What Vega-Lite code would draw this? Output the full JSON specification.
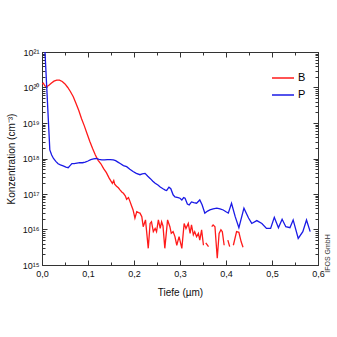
{
"$schema": "https://vega.github.io/schema/vega-lite/v6.json",
"width": 276, "height": 213,
"autosize": {"type": "none"},
"padding": {"left": 42, "top": 52, "right": 19, "bottom": 72},
"background": "white",
"config": {
 "font": "Liberation Sans",
 "view": {"stroke": "#333", "strokeWidth": 1},
 "axis": {"domainColor": "#333", "tickColor": "#333", "labelColor": "#111", "titleColor": "#111", "grid": false, "titleFontWeight": "normal", "labelFontSize": 9, "titleFontSize": 10}
},
"data": {"values": [
{"s":"B","x":0.000,"y":1.26e20},{"s":"B","x":0.003,"y":1.32e20},{"s":"B","x":0.006,"y":1.12e20},{"s":"B","x":0.010,"y":1.05e20},
{"s":"B","x":0.015,"y":1.15e20},{"s":"B","x":0.020,"y":1.32e20},{"s":"B","x":0.026,"y":1.51e20},{"s":"B","x":0.032,"y":1.62e20},
{"s":"B","x":0.038,"y":1.62e20},{"s":"B","x":0.044,"y":1.48e20},{"s":"B","x":0.050,"y":1.26e20},{"s":"B","x":0.056,"y":1.0e20},
{"s":"B","x":0.062,"y":7.6e19},{"s":"B","x":0.068,"y":5.5e19},{"s":"B","x":0.074,"y":3.55e19},{"s":"B","x":0.080,"y":2.24e19},
{"s":"B","x":0.086,"y":1.32e19},{"s":"B","x":0.092,"y":8.3e18},{"s":"B","x":0.098,"y":5.0e18},{"s":"B","x":0.104,"y":3.0e18},
{"s":"B","x":0.110,"y":1.9e18},{"s":"B","x":0.116,"y":1.26e18},{"s":"B","x":0.122,"y":8.9e17},{"s":"B","x":0.128,"y":7.1e17},
{"s":"B","x":0.134,"y":5.2e17},{"s":"B","x":0.140,"y":4.0e17},{"s":"B","x":0.146,"y":2.8e17},{"s":"B","x":0.150,"y":2.3e17},
{"s":"B","x":0.153,"y":2.0e17},{"s":"B","x":0.156,"y":2.4e17},{"s":"B","x":0.158,"y":1.9e17},{"s":"B","x":0.162,"y":1.66e17},
{"s":"B","x":0.166,"y":1.5e17},{"s":"B","x":0.170,"y":1.29e17},{"s":"B","x":0.174,"y":1.12e17},{"s":"B","x":0.177,"y":1.05e17},
{"s":"B","x":0.181,"y":8.9e16},{"s":"B","x":0.184,"y":7.1e16},{"s":"B","x":0.188,"y":7.9e16},{"s":"B","x":0.191,"y":6.3e16},
{"s":"B","x":0.195,"y":4.5e16},{"s":"B","x":0.198,"y":3.55e16},{"s":"B","x":0.202,"y":2.1e16},{"s":"B","x":0.206,"y":3.16e16},
{"s":"B","x":0.210,"y":3.0e16},{"s":"B","x":0.213,"y":2.9e16},{"s":"B","x":0.217,"y":2.3e16},{"s":"B","x":0.220,"y":1.2e16},
{"s":"B","x":0.225,"y":1.86e16},{"s":"B","x":0.231,"y":2.95e15},{"s":"B","x":0.235,"y":1.48e16},{"s":"B","x":0.238,"y":1.66e16},
{"s":"B","x":0.242,"y":8.7e15},{"s":"B","x":0.246,"y":1.07e16},{"s":"B","x":0.249,"y":8.7e15},{"s":"B","x":0.253,"y":1.86e16},
{"s":"B","x":0.257,"y":1.07e16},{"s":"B","x":0.260,"y":1.66e16},{"s":"B","x":0.263,"y":1.26e16},{"s":"B","x":0.267,"y":2.95e15},
{"s":"B","x":0.273,"y":1.86e16},{"s":"B","x":0.278,"y":1.2e16},{"s":"B","x":0.281,"y":7.8e15},{"s":"B","x":0.285,"y":8.7e15},
{"s":"B","x":0.289,"y":6.3e15},{"s":"B","x":0.293,"y":3.6e15},{"s":"B","x":0.298,"y":6.3e15},{"s":"B","x":0.304,"y":2.95e15},
{"s":"B","x":0.309,"y":1.48e16},{"s":"B","x":0.313,"y":1.07e16},{"s":"B","x":0.318,"y":1.48e16},{"s":"B","x":0.322,"y":7.8e15},
{"s":"B","x":0.325,"y":1.35e16},{"s":"B","x":0.329,"y":7.1e15},{"s":"B","x":0.332,"y":8.7e15},{"s":"B","x":0.336,"y":6.3e15},
{"s":"B","x":0.340,"y":7.8e15},{"s":"B","x":0.343,"y":5.0e15},{"s":"B","x":0.347,"y":9.8e15},{"s":"B","x":0.351,"y":3.6e15},
{"s":"B","x":0.354,"y":null},{"s":"B","x":0.356,"y":4.2e15},{"s":"B","x":0.362,"y":3.3e15},{"s":"B","x":0.365,"y":null},
{"s":"B","x":0.369,"y":1.2e16},{"s":"B","x":0.372,"y":1.35e16},{"s":"B","x":0.376,"y":1.2e16},{"s":"B","x":0.381,"y":1.55e15},
{"s":"B","x":0.385,"y":7.8e15},{"s":"B","x":0.389,"y":9.8e15},{"s":"B","x":0.392,"y":8.7e15},{"s":"B","x":0.396,"y":3.6e15},
{"s":"B","x":0.400,"y":null},{"s":"B","x":0.404,"y":5.0e15},{"s":"B","x":0.408,"y":3.3e15},{"s":"B","x":0.411,"y":null},
{"s":"B","x":0.416,"y":3.6e15},{"s":"B","x":0.423,"y":8.7e15},{"s":"B","x":0.428,"y":8.3e15},{"s":"B","x":0.433,"y":4.5e15},
{"s":"B","x":0.437,"y":3.16e15},
{"s":"P","x":0.000,"y":1e22},{"s":"P","x":0.0065,"y":1e21},{"s":"P","x":0.017,"y":1.74e18},{"s":"P","x":0.021,"y":1.26e18},
{"s":"P","x":0.025,"y":1.0e18},{"s":"P","x":0.030,"y":8.3e17},{"s":"P","x":0.035,"y":7.1e17},{"s":"P","x":0.040,"y":6.6e17},
{"s":"P","x":0.046,"y":6.2e17},{"s":"P","x":0.052,"y":5.75e17},{"s":"P","x":0.057,"y":5.5e17},{"s":"P","x":0.061,"y":6.3e17},
{"s":"P","x":0.065,"y":7.2e17},{"s":"P","x":0.070,"y":7.2e17},{"s":"P","x":0.076,"y":7.4e17},{"s":"P","x":0.082,"y":7.6e17},
{"s":"P","x":0.088,"y":7.6e17},{"s":"P","x":0.094,"y":7.9e17},{"s":"P","x":0.100,"y":8.5e17},{"s":"P","x":0.106,"y":9.3e17},
{"s":"P","x":0.112,"y":9.8e17},{"s":"P","x":0.118,"y":1.0e18},{"s":"P","x":0.124,"y":9.5e17},{"s":"P","x":0.130,"y":9.1e17},
{"s":"P","x":0.136,"y":9.1e17},{"s":"P","x":0.142,"y":9.3e17},{"s":"P","x":0.148,"y":9.3e17},{"s":"P","x":0.155,"y":9.1e17},
{"s":"P","x":0.160,"y":8.7e17},{"s":"P","x":0.165,"y":7.9e17},{"s":"P","x":0.170,"y":7.2e17},{"s":"P","x":0.177,"y":6.3e17},
{"s":"P","x":0.184,"y":5.9e17},{"s":"P","x":0.191,"y":5.0e17},{"s":"P","x":0.198,"y":4.3e17},{"s":"P","x":0.205,"y":3.8e17},
{"s":"P","x":0.213,"y":3.5e17},{"s":"P","x":0.218,"y":3.7e17},{"s":"P","x":0.224,"y":3.8e17},{"s":"P","x":0.230,"y":3.16e17},
{"s":"P","x":0.235,"y":2.75e17},{"s":"P","x":0.241,"y":2.3e17},{"s":"P","x":0.246,"y":2.0e17},{"s":"P","x":0.252,"y":1.8e17},
{"s":"P","x":0.257,"y":1.58e17},{"s":"P","x":0.263,"y":1.41e17},{"s":"P","x":0.268,"y":1.29e17},{"s":"P","x":0.271,"y":1.26e17},
{"s":"P","x":0.276,"y":1.55e17},{"s":"P","x":0.280,"y":1.41e17},{"s":"P","x":0.285,"y":9.5e16},{"s":"P","x":0.289,"y":8.3e16},
{"s":"P","x":0.296,"y":7.9e16},{"s":"P","x":0.300,"y":7.6e16},{"s":"P","x":0.304,"y":6.8e16},{"s":"P","x":0.308,"y":7.9e16},
{"s":"P","x":0.311,"y":7.6e16},{"s":"P","x":0.316,"y":5.2e16},{"s":"P","x":0.320,"y":4.9e16},{"s":"P","x":0.325,"y":6.0e16},
{"s":"P","x":0.330,"y":5.75e16},{"s":"P","x":0.336,"y":5.5e16},{"s":"P","x":0.343,"y":6.8e16},{"s":"P","x":0.348,"y":5.0e16},
{"s":"P","x":0.354,"y":2.9e16},{"s":"P","x":0.360,"y":3.3e16},{"s":"P","x":0.365,"y":3.55e16},{"s":"P","x":0.372,"y":3.8e16},
{"s":"P","x":0.380,"y":4.0e16},{"s":"P","x":0.387,"y":3.8e16},{"s":"P","x":0.394,"y":3.55e16},{"s":"P","x":0.400,"y":3.16e16},
{"s":"P","x":0.405,"y":2.9e16},{"s":"P","x":0.412,"y":5.5e16},{"s":"P","x":0.420,"y":2.3e16},{"s":"P","x":0.428,"y":1.12e16},
{"s":"P","x":0.439,"y":4.0e16},{"s":"P","x":0.449,"y":2.1e16},{"s":"P","x":0.456,"y":1.48e16},{"s":"P","x":0.467,"y":1.78e16},
{"s":"P","x":0.478,"y":1.48e16},{"s":"P","x":0.488,"y":1.07e16},{"s":"P","x":0.497,"y":1.07e16},{"s":"P","x":0.505,"y":2.2e16},
{"s":"P","x":0.514,"y":1.12e16},{"s":"P","x":0.522,"y":1.95e16},{"s":"P","x":0.530,"y":1.2e16},{"s":"P","x":0.539,"y":1.12e16},
{"s":"P","x":0.546,"y":1.86e16},{"s":"P","x":0.557,"y":5.6e15},{"s":"P","x":0.567,"y":8.7e15},{"s":"P","x":0.575,"y":1.86e16},
{"s":"P","x":0.583,"y":8.7e15}
]},
"layer": [
 {
  "mark": {"type": "line", "strokeWidth": 1.3, "clip": true},
  "encoding": {
   "x": {"field": "x", "type": "quantitative", "scale": {"domain": [0, 0.6], "nice": false, "zero": false},
     "axis": {"orient": "bottom", "title": "Tiefe (µm)", "values": [0,0.05,0.1,0.15,0.2,0.25,0.3,0.35,0.4,0.45,0.5,0.55,0.6],
       "labelExpr": "round(datum.value*100)%10==0 ? replace(format(datum.value,'.1f'),'.',',') : ''",
       "tickSize": {"condition": {"test": "round(datum.value*100)%10==0", "value": -5}, "value": -3},
       "labelPadding": 9, "titlePadding": 7, "labelFlush": false, "labelOverlap": false}},
   "y": {"field": "y", "type": "quantitative", "scale": {"type": "log", "domain": [1e15, 1e21], "nice": false},
     "axis": {"orient": "left", "title": "Konzentration (cm⁻³)",
       "values": [1e15,2e15,3e15,4e15,5e15,6e15,7e15,8e15,9e15,1e16,2e16,3e16,4e16,5e16,6e16,7e16,8e16,9e16,1e17,2e17,3e17,4e17,5e17,6e17,7e17,8e17,9e17,1e18,2e18,3e18,4e18,5e18,6e18,7e18,8e18,9e18,1e19,2e19,3e19,4e19,5e19,6e19,7e19,8e19,9e19,1e20,2e20,3e20,4e20,5e20,6e20,7e20,8e20,9e20,1e21],
       "labelExpr": "abs(log(datum.value)/LN10 - round(log(datum.value)/LN10)) < 0.001 ? (round(log(datum.value)/LN10)==15 ? '10¹⁵' : round(log(datum.value)/LN10)==16 ? '10¹⁶' : round(log(datum.value)/LN10)==17 ? '10¹⁷' : round(log(datum.value)/LN10)==18 ? '10¹⁸' : round(log(datum.value)/LN10)==19 ? '10¹⁹' : round(log(datum.value)/LN10)==20 ? '10²⁰' : '10²¹') : ''",
       "tickSize": {"condition": {"test": "abs(log(datum.value)/LN10 - round(log(datum.value)/LN10)) < 0.001", "value": -5}, "value": -3},
       "labelPadding": 8, "titlePadding": 6, "labelFlush": false, "labelOverlap": false}},
   "color": {"field": "s", "type": "nominal", "scale": {"domain": ["B", "P"], "range": ["#ff1a1a", "#1a1ae6"]},
     "legend": {"title": null, "orient": "none", "legendX": 229, "legendY": 14, "symbolType": "stroke", "symbolSize": 484, "symbolStrokeWidth": 1.5, "labelFontSize": 11, "rowPadding": -8, "labelOffset": 3, "padding": 0}}
  }
 },
 {
  "mark": {"type": "line", "opacity": 0, "clip": true},
  "encoding": {
   "x": {"field": "x", "type": "quantitative", "scale": {"domain": [0, 0.6], "nice": false, "zero": false},
     "axis": {"orient": "top", "title": null, "labels": false, "values": [0,0.05,0.1,0.15,0.2,0.25,0.3,0.35,0.4,0.45,0.5,0.55,0.6],
       "tickSize": {"condition": {"test": "round(datum.value*100)%10==0", "value": -5}, "value": -3}}},
   "y": {"field": "y", "type": "quantitative", "scale": {"type": "log", "domain": [1e15, 1e21], "nice": false},
     "axis": {"orient": "right", "labels": false, "title": "IFOS GmbH", "titleFontSize": 7, "titleColor": "#333", "titleAngle": 270, "titleX": 9, "titleY": 201, "titleAlign": "center", "titleBaseline": "middle",
       "values": [1e15,2e15,3e15,4e15,5e15,6e15,7e15,8e15,9e15,1e16,2e16,3e16,4e16,5e16,6e16,7e16,8e16,9e16,1e17,2e17,3e17,4e17,5e17,6e17,7e17,8e17,9e17,1e18,2e18,3e18,4e18,5e18,6e18,7e18,8e18,9e18,1e19,2e19,3e19,4e19,5e19,6e19,7e19,8e19,9e19,1e20,2e20,3e20,4e20,5e20,6e20,7e20,8e20,9e20,1e21],
       "tickSize": {"condition": {"test": "abs(log(datum.value)/LN10 - round(log(datum.value)/LN10)) < 0.001", "value": -5}, "value": -3}}},
   "detail": {"field": "s"}
  }
 }
],
"resolve": {"axis": {"x": "independent", "y": "independent"}}
}
